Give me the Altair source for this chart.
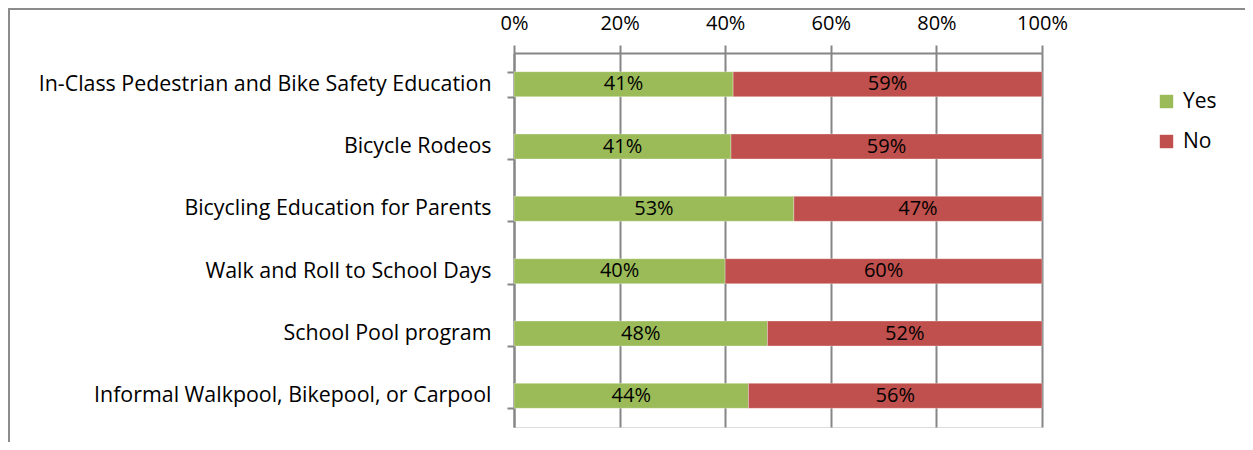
import altair as alt
import pandas as pd

categories = [
    "In-Class Pedestrian and Bike Safety Education",
    "Bicycle Rodeos",
    "Bicycling Education for Parents",
    "Walk and Roll to School Days",
    "School Pool program",
    "Informal Walkpool, Bikepool, or Carpool",
]
yes_values = [41.5, 41.1, 53.0, 40.0, 48.0, 44.4]
no_values = [58.5, 58.9, 47.0, 60.0, 52.0, 55.6]
yes_labels = ["41%", "41%", "53%", "40%", "48%", "44%"]
no_labels = ["59%", "59%", "47%", "60%", "52%", "56%"]
x_ticks = [0, 20, 40, 60, 80, 100]

GREEN = "#9BBB59"
RED = "#C0504D"
GRAY = "#868686"
FONT = "Open Sans"

rows = []
for c, y, n, yl, nl in zip(categories, yes_values, no_values, yes_labels, no_labels):
    rows.append({"category": c, "response": "Yes", "value": y, "label": yl, "order": 0})
    rows.append({"category": c, "response": "No", "value": n, "label": nl, "order": 1})
df = pd.DataFrame(rows)

y_enc = alt.Y(
    "category:N",
    sort=categories,
    scale=alt.Scale(paddingInner=0.6, paddingOuter=0.3),
    axis=alt.Axis(
        title=None,
        domainColor=GRAY,
        domainWidth=2,
        tickColor=GRAY,
        tickWidth=2,
        tickSize=7,
        tickBand="extent",
        labelFont=FONT,
        labelFontSize=21.4,
        labelColor="#000000",
        labelPadding=16,
        labelLimit=600,
    ),
)

base = alt.Chart(df)

bars = base.mark_bar(stroke="white", strokeWidth=0.5, strokeOpacity=0.6).encode(
    y=y_enc,
    x=alt.X(
        "value:Q",
        stack="zero",
        scale=alt.Scale(domain=[0, 100], nice=False),
        axis=alt.Axis(
            title=None,
            orient="top",
            values=x_ticks,
            labelExpr="datum.value + '%'",
            labelFlush=False,
            grid=True,
            gridColor=GRAY,
            gridWidth=2,
            domainColor=GRAY,
            domainWidth=2,
            tickColor=GRAY,
            tickWidth=2,
            tickSize=8,
            labelFont=FONT,
            labelFontSize=20,
            labelColor="#000000",
            labelPadding=12,
        ),
    ),
    color=alt.Color(
        "response:N",
        scale=alt.Scale(domain=["Yes", "No"], range=[GREEN, RED]),
        legend=alt.Legend(
            title=None,
            orient="none",
            legendX=642,
            legendY=38,
            symbolType="square",
            symbolSize=180,
            symbolStrokeWidth=0,
            labelFont=FONT,
            labelFontSize=21,
            labelColor="#000000",
            labelOffset=6,
            rowPadding=18,
        ),
    ),
    order=alt.Order("order:Q"),
)

labels = (
    base.transform_stack(
        stack="value",
        groupby=["category"],
        as_=["x0", "x1"],
        sort=[alt.SortField("order", order="ascending")],
    )
    .transform_calculate(mid="(datum.x0 + datum.x1) / 2")
    .mark_text(font=FONT, fontSize=20, color="#000000", baseline="middle", align="center")
    .encode(x=alt.X("mid:Q"), y=alt.Y("category:N", sort=categories), text="label:N")
)

frame_top = alt.Chart(pd.DataFrame({"a": [0]})).mark_rule(color="#8c8c8c", strokeWidth=2, clip=False).encode(
    x=alt.value(-506), x2=alt.value(740), y=alt.value(-44)
)
frame_left = alt.Chart(pd.DataFrame({"a": [0]})).mark_rule(color="#8c8c8c", strokeWidth=2, clip=False).encode(
    x=alt.value(-505), y=alt.value(-45), y2=alt.value(400)
)

chart = (
    alt.layer(bars, labels, frame_top, frame_left)
    .properties(
        width=528,
        height=374,
        autosize=alt.AutoSizeParams(type="none"),
        padding={"left": 506, "top": 45, "right": 203, "bottom": 15},
    )
    .configure_view(stroke=None)
    .configure(background="white")
)

chart.save("out.html", embed_options={"renderer": "svg", "actions": False})
